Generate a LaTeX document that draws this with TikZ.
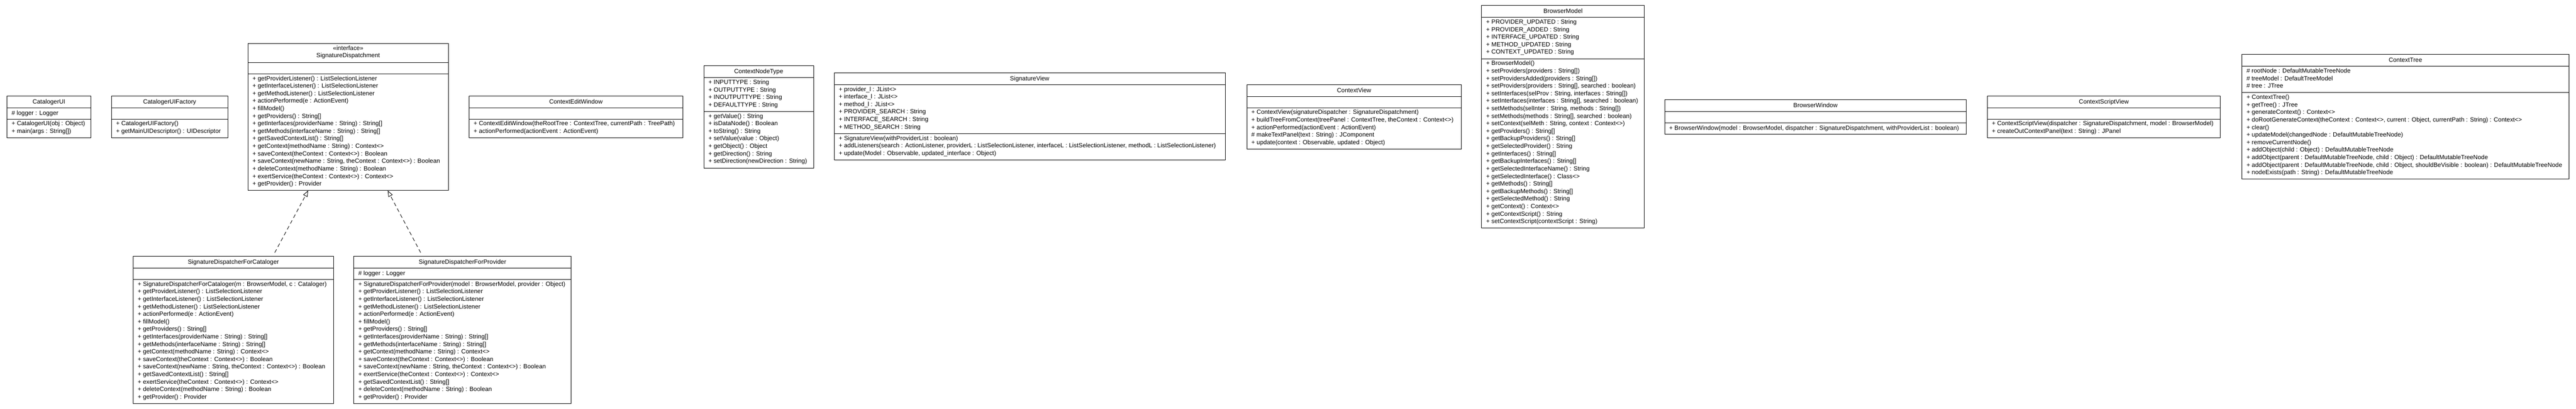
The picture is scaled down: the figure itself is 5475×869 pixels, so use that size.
\documentclass[tikz,border=0pt]{standalone}
\usepackage{fontspec}
\setmainfont{Liberation Sans}
\usetikzlibrary{arrows.meta}
\newcommand\umlfont{\fontsize{13}{16}\selectfont}
\tikzset{
  umlbox/.style={draw=black, line width=1pt, fill=white, inner sep=0pt, outer sep=0pt},
  umlsep/.style={draw=black, line width=1pt},
  umltitle/.style={inner sep=0pt, align=center, font=\umlfont, execute at begin node=\strut},
  umltext/.style={inner sep=0pt, align=left, anchor=north west, font=\umlfont, execute at begin node=\strut},
  realize/.style={draw=black, line width=1pt, dash pattern=on 8pt off 6pt, -{Triangle[open, length=13pt, width=10pt]}},
}
% #1 id, #2 left, #3 top, #4 right, #5 header height, #6 n attrs, #7 n ops, #8 attrs, #9 ops
\newcommand{\umlclass}[9]{%
  \pgfmathsetmacro\ya{#3+#5}%
  \pgfmathsetmacro\yb{\ya+((#6==0)?24:(16*#6+8))}%
  \pgfmathsetmacro\yc{\yb+((#7==0)?24:(16*#7+8))}%
  \pgfmathsetmacro\ww{#4-#2}%
  \pgfmathsetmacro\hh{\yc-#3}%
  \pgfmathsetmacro\xm{(#2+#4)/2}%
  \node[umlbox, minimum width=\ww pt, minimum height=\hh pt, anchor=north west] (#1) at (#2,#3) {};
  \draw[umlsep] (#2,\ya) -- (#4,\ya);
  \draw[umlsep] (#2,\yb) -- (#4,\yb);
  \node[umltitle, anchor=north] (#1-title) at (\xm,#3+5) {\umlhead};
  \node[umltext] (#1-attrs) at (#2+9.5,\ya+4.3) {#8};
  \node[umltext] (#1-ops) at (#2+9.5,\yb+4.3) {#9};
}
\begin{document}
\begin{tikzpicture}[x=1pt,y=-1pt]
\useasboundingbox (0,0) rectangle (5475,869);
\fill[white] (0,0) rectangle (5475,869);

\def\umlhead{CatalogerUI}
\umlclass{cui}{15}{204}{193}{25}{1}{2}
{\# logger : Logger}
{+ CatalogerUI(obj : Object)\\
+ main(args : String[])}

\def\umlhead{CatalogerUIFactory}
\umlclass{cuif}{237}{204}{484}{25}{0}{2}
{}
{+ CatalogerUIFactory()\\
+ getMainUIDescriptor() : UIDescriptor}

\def\umlhead{«interface»\\SignatureDispatchment}
\umlclass{sig}{527}{92}{953}{41}{0}{15}
{}
{+ getProviderListener() : ListSelectionListener\\
+ getInterfaceListener() : ListSelectionListener\\
+ getMethodListener() : ListSelectionListener\\
+ actionPerformed(e : ActionEvent)\\
+ fillModel()\\
+ getProviders() : String[]\\
+ getInterfaces(providerName : String) : String[]\\
+ getMethods(interfaceName : String) : String[]\\
+ getSavedContextList() : String[]\\
+ getContext(methodName : String) : Context<>\\
+ saveContext(theContext : Context<>) : Boolean\\
+ saveContext(newName : String, theContext : Context<>) : Boolean\\
+ deleteContext(methodName : String) : Boolean\\
+ exertService(theContext : Context<>) : Context<>\\
+ getProvider() : Provider}

\def\umlhead{SignatureDispatcherForCataloger}
\umlclass{sdc}{283}{545}{709}{25}{0}{16}
{}
{+ SignatureDispatcherForCataloger(m : BrowserModel, c : Cataloger)\\
+ getProviderListener() : ListSelectionListener\\
+ getInterfaceListener() : ListSelectionListener\\
+ getMethodListener() : ListSelectionListener\\
+ actionPerformed(e : ActionEvent)\\
+ fillModel()\\
+ getProviders() : String[]\\
+ getInterfaces(providerName : String) : String[]\\
+ getMethods(interfaceName : String) : String[]\\
+ getContext(methodName : String) : Context<>\\
+ saveContext(theContext : Context<>) : Boolean\\
+ saveContext(newName : String, theContext : Context<>) : Boolean\\
+ getSavedContextList() : String[]\\
+ exertService(theContext : Context<>) : Context<>\\
+ deleteContext(methodName : String) : Boolean\\
+ getProvider() : Provider}

\def\umlhead{SignatureDispatcherForProvider}
\umlclass{sdp}{752}{545}{1214}{25}{1}{16}
{\# logger : Logger}
{+ SignatureDispatcherForProvider(model : BrowserModel, provider : Object)\\
+ getProviderListener() : ListSelectionListener\\
+ getInterfaceListener() : ListSelectionListener\\
+ getMethodListener() : ListSelectionListener\\
+ actionPerformed(e : ActionEvent)\\
+ fillModel()\\
+ getProviders() : String[]\\
+ getInterfaces(providerName : String) : String[]\\
+ getMethods(interfaceName : String) : String[]\\
+ getContext(methodName : String) : Context<>\\
+ saveContext(theContext : Context<>) : Boolean\\
+ saveContext(newName : String, theContext : Context<>) : Boolean\\
+ exertService(theContext : Context<>) : Context<>\\
+ getSavedContextList() : String[]\\
+ deleteContext(methodName : String) : Boolean\\
+ getProvider() : Provider}

\def\umlhead{ContextEditWindow}
\umlclass{cew}{997}{204}{1451}{25}{0}{2}
{}
{+ ContextEditWindow(theRootTree : ContextTree, currentPath : TreePath)\\
+ actionPerformed(actionEvent : ActionEvent)}

\def\umlhead{ContextNodeType}
\umlclass{cnt}{1496}{140}{1729}{25}{4}{7}
{+ INPUTTYPE : String\\
+ OUTPUTTYPE : String\\
+ INOUTPUTTYPE : String\\
+ DEFAULTTYPE : String}
{+ getValue() : String\\
+ isDataNode() : Boolean\\
+ toString() : String\\
+ setValue(value : Object)\\
+ getObject() : Object\\
+ getDirection() : String\\
+ setDirection(newDirection : String)}

\def\umlhead{SignatureView}
\umlclass{sv}{1773}{155}{2604}{25}{6}{3}
{+ provider\_l : JList<>\\
+ interface\_l : JList<>\\
+ method\_l : JList<>\\
+ PROVIDER\_SEARCH : String\\
+ INTERFACE\_SEARCH : String\\
+ METHOD\_SEARCH : String}
{+ SignatureView(withProviderList : boolean)\\
+ addListeners(search : ActionListener, providerL : ListSelectionListener, interfaceL : ListSelectionListener, methodL : ListSelectionListener)\\
+ update(Model : Observable, updated\_interface : Object)}

\def\umlhead{ContextView}
\umlclass{cv}{2650}{180}{3106}{25}{0}{5}
{}
{+ ContextView(signatureDispatcher : SignatureDispatchment)\\
+ buildTreeFromContext(treePanel : ContextTree, theContext : Context<>)\\
+ actionPerformed(actionEvent : ActionEvent)\\
\# makeTextPanel(text : String) : JComponent\\
+ update(context : Observable, updated : Object)}

\def\umlhead{BrowserModel}
\umlclass{bm}{3149}{12}{3495}{25}{5}{22}
{+ PROVIDER\_UPDATED : String\\
+ PROVIDER\_ADDED : String\\
+ INTERFACE\_UPDATED : String\\
+ METHOD\_UPDATED : String\\
+ CONTEXT\_UPDATED : String}
{+ BrowserModel()\\
+ setProviders(providers : String[])\\
+ setProvidersAdded(providers : String[])\\
+ setProviders(providers : String[], searched : boolean)\\
+ setInterfaces(selProv : String, interfaces : String[])\\
+ setInterfaces(interfaces : String[], searched : boolean)\\
+ setMethods(selInter : String, methods : String[])\\
+ setMethods(methods : String[], searched : boolean)\\
+ setContext(selMeth : String, context : Context<>)\\
+ getProviders() : String[]\\
+ getBackupProviders() : String[]\\
+ getSelectedProvider() : String\\
+ getInterfaces() : String[]\\
+ getBackupInterfaces() : String[]\\
+ getSelectedInterfaceName() : String\\
+ getSelectedInterface() : Class<>\\
+ getMethods() : String[]\\
+ getBackupMethods() : String[]\\
+ getSelectedMethod() : String\\
+ getContext() : Context<>\\
+ getContextScript() : String\\
+ setContextScript(contextScript : String)}

\def\umlhead{BrowserWindow}
\umlclass{bw}{3538}{212}{4179}{25}{0}{1}
{}
{+ BrowserWindow(model : BrowserModel, dispatcher : SignatureDispatchment, withProviderList : boolean)}

\def\umlhead{ContextScriptView}
\umlclass{csv}{4224}{204}{4719}{25}{0}{2}
{}
{+ ContextScriptView(dispatcher : SignatureDispatchment, model : BrowserModel)\\
+ createOutContextPanel(text : String) : JPanel}

\def\umlhead{ContextTree}
\umlclass{ct}{4765}{116}{5460}{25}{3}{11}
{\# rootNode : DefaultMutableTreeNode\\
\# treeModel : DefaultTreeModel\\
\# tree : JTree}
{+ ContextTree()\\
+ getTree() : JTree\\
+ generateContext() : Context<>\\
+ doRootGenerateContext(theContext : Context<>, current : Object, currentPath : String) : Context<>\\
+ clear()\\
+ updateModel(changedNode : DefaultMutableTreeNode)\\
+ removeCurrentNode()\\
+ addObject(child : Object) : DefaultMutableTreeNode\\
+ addObject(parent : DefaultMutableTreeNode, child : Object) : DefaultMutableTreeNode\\
+ addObject(parent : DefaultMutableTreeNode, child : Object, shouldBeVisible : boolean) : DefaultMutableTreeNode\\
+ nodeExists(path : String) : DefaultMutableTreeNode}

\draw[realize] ([xshift=88pt, yshift=8pt]sdc.north) -- ([xshift=-85pt]sig.south);
\draw[realize] ([xshift=-89pt, yshift=8pt]sdp.north) -- ([xshift=84pt]sig.south);
\end{tikzpicture}
\end{document}
